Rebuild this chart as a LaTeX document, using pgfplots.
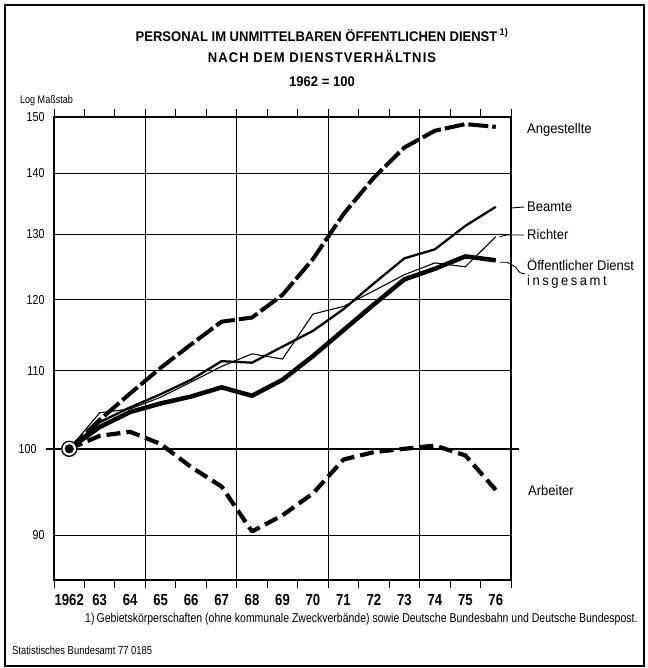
\documentclass[border=0pt]{standalone}
\usepackage{fontspec}
\setmainfont{Liberation Sans}
\newfontfamily\cond{Liberation Sans}[FakeStretch=0.82]
\newfontfamily\tfont{Liberation Sans}[FakeStretch=0.93]
\usepackage{pgfplots}
\pgfplotsset{compat=1.18}
\usepackage{pgfplotstable}

\pgfplotstableread{
year ang bea ric ins arb
1962 100   100   100   100   100
1963 103.6 103.3 104.5 102.7 101.6
1964 107.0 105.2 105.0 104.6 102.1
1965 110.4 106.9 106.5 105.7 100.6
1966 113.6 108.8 108.5 106.6 97.8
1967 116.8 111.3 110.6 107.8 95.5
1968 117.4 111.1 112.3 106.7 90.4
1969 120.7 113.3 111.6 108.8 92.2
1970 126.1 115.5 117.9 112.0 94.7
1971 133.2 118.6 119.0 115.6 98.7
1972 139.3 122.4 121.3 119.3 99.6
1973 144.5 126.2 123.7 123.0 100.0
1974 147.5 127.6 125.5 124.6 100.4
1975 148.7 131.3 124.9 126.5 99.2
1976 148.2 134.4 129.6 125.9 95.1
}\datatable

\begin{document}
\begin{tikzpicture}
\useasboundingbox (0pt,0pt) rectangle (647pt,668pt);
\draw[line width=1.2pt] (5pt,2pt) rectangle (644pt,663pt);

\node[font=\tfont\bfseries\fontsize{14}{14}\selectfont] at (322pt,633pt) {PERSONAL IM UNMITTELBAREN ÖFFENTLICHEN DIENST\,\textsuperscript{1)}};
\node[font=\tfont\bfseries\fontsize{14}{14}\selectfont] at (322pt,611pt) {\addfontfeature{LetterSpace=8}NACH DEM DIENSTVERHÄLTNIS};
\node[font=\tfont\bfseries\fontsize{14}{14}\selectfont] at (322pt,586pt) {1962 = 100};
\node[font=\cond\fontsize{11}{11}\selectfont, anchor=west, inner sep=0pt] at (20pt,567pt) {Log Maßstab};

\begin{axis}[
  at={(54pt,88pt)}, anchor=south west, scale only axis,
  width=457pt, height=463pt,
  xmin=1961.5, xmax=1976.5,
  ymode=log, ymin=85.2, ymax=150,
  axis line style={line width=1.2pt},
  major tick length=0pt, minor tick length=0pt,
  ytick={90,110,120,130,140,150},
  yticklabels={90,110,120,130,140,150},
  extra y ticks={100}, extra y tick labels={100},
  extra y tick style={tick align=outside, major tick length=8pt,
     tick style={line width=1.5pt, black},
     major grid style={line width=1.7pt, black}},
  ymajorgrids=true,
  grid style={line width=0.9pt, black},
  xtick={1962,1963,...,1976},
  xticklabels={1962,63,64,65,66,67,68,69,70,71,72,73,74,75,76},
  extra x ticks={1961.5,1962.5,...,1976.5},
  extra x tick labels={},
  extra x tick style={tick align=outside, major tick length=8pt,
     tick style={line width=1pt, black}},
  minor xtick={1964.5,1967.5,1970.5,1973.5},
  xminorgrids=true,
  minor grid style={line width=0.9pt, black},
  xticklabel style={font=\cond\bfseries\fontsize{16}{16}\selectfont, anchor=center, yshift=-20pt},
  yticklabel style={font=\cond\fontsize{13}{13}\selectfont, anchor=east, xshift=-6pt},
  clip=false,
]
\addplot[line width=4pt, dash pattern=on 20pt off 4pt, line join=round] table[x=year,y=ang]{\datatable};
\addplot[line width=4.2pt, dash pattern=on 14pt off 6pt, line join=round] table[x=year,y=arb]{\datatable};
\addplot[line width=2.3pt, line join=round] table[x=year,y=bea]{\datatable};
\addplot[line width=1.1pt, line join=round] table[x=year,y=ric]{\datatable};
\addplot[line width=4.5pt, line join=round] table[x=year,y=ins]{\datatable};
\addplot[only marks, mark=*, mark size=7.5pt, mark options={fill=white, draw=black, line width=1.3pt}] coordinates {(1962,100)};
\addplot[only marks, mark=*, mark size=4.3pt, black] coordinates {(1962,100)};
\end{axis}

% series labels
\begin{scope}[every node/.style={font=\tfont\fontsize{14}{14}\selectfont, anchor=west, inner sep=0pt}]
\node at (527pt,538pt) {Angestellte};
\node at (527pt,461pt) {Beamte};
\node at (527pt,433pt) {Richter};
\node at (527pt,403pt) {Öffentlicher Dienst};
\node at (527pt,386pt) {\addfontfeature{LetterSpace=18}insgesamt};
\node at (528pt,178pt) {Arbeiter};
\end{scope}
\draw[line width=0.9pt] (511pt,460pt) -- (524pt,461pt);
\draw[line width=0.9pt] (500pt,431.3pt) -- (507pt,433pt) -- (524pt,433pt);
\draw[line width=0.9pt] (500pt,405.7pt) -- (507pt,405.7pt) -- (515pt,401.3pt) -- (520pt,395.3pt) -- (525pt,394pt);

\node[font=\cond\fontsize{12.8}{12.8}\selectfont, anchor=west, inner sep=0pt] at (85pt,49pt) {1)\,Gebietskörperschaften (ohne kommunale Zweckverbände) sowie Deutsche Bundesbahn und Deutsche Bundespost.};
\node[font=\cond\fontsize{11.5}{11.5}\selectfont, anchor=west, inner sep=0pt] at (12pt,18pt) {Statistisches Bundesamt 77 0185};
\end{tikzpicture}
\end{document}
